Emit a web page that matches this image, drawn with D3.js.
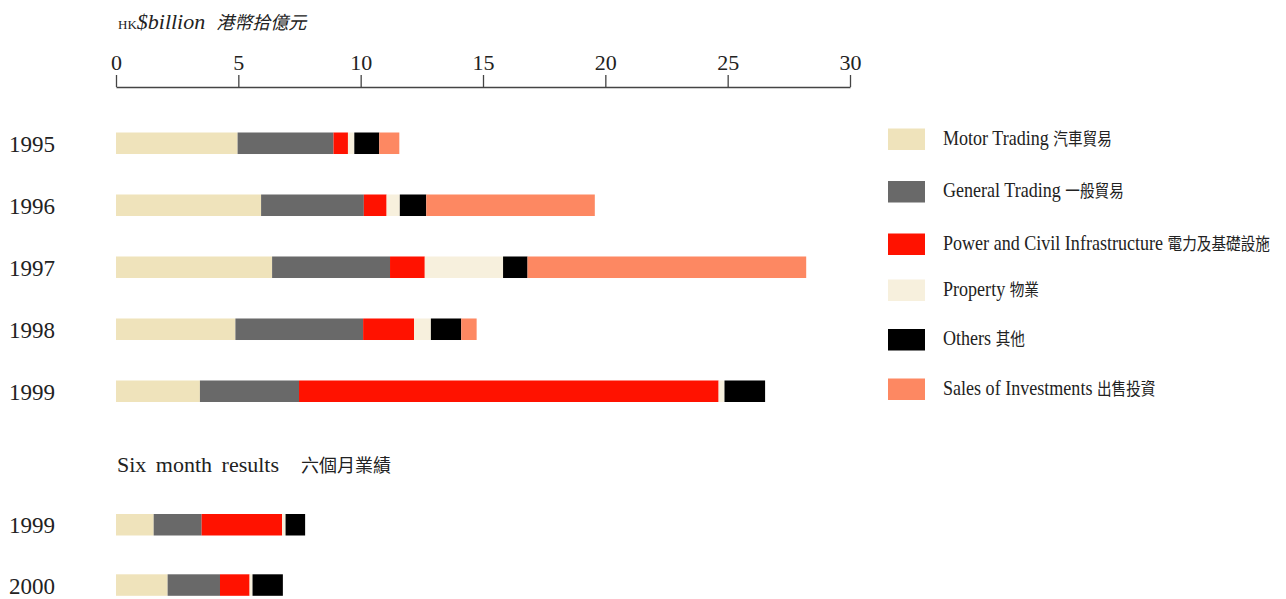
<!DOCTYPE html>
<html>
<head>
<meta charset="utf-8">
<script src="https://cdn.jsdelivr.net/npm/d3@7/dist/d3.min.js"></script>
<style>
  html, body { margin: 0; padding: 0; background: #fff; }
  svg { display: block; }
  text { fill: #222; }
  .serif { font-family: "Liberation Serif", "DejaVu Serif", serif; }
  .cjk { font-family: "Noto Sans CJK TC", "Noto Sans CJK SC", sans-serif; }
</style>
</head>
<body>
<svg id="chart" width="1286" height="599"></svg>
<script>
// Turnover by division, HK$ billion
const years = ["1995", "1996", "1997", "1998", "1999"];
const halfYears = ["1999", "2000"];

const motorTrading   = [4.97, 5.93, 6.38, 4.88, 3.43];
const generalTrading = [3.92, 4.20, 4.82, 5.22, 4.05];
const powerCivil     = [0.59, 0.93, 1.42, 2.08, 17.15];
const property       = [0.26, 0.54, 3.20, 0.69, 0.24];
const others         = [1.02, 1.08, 1.00, 1.24, 1.66];
const salesInvest    = [0.82, 6.89, 11.39, 0.63, 0.00];

// Six month results
const halfMotor    = [1.54, 2.11];
const halfGeneral  = [1.96, 2.14];
const halfPower    = [3.29, 1.21];
const halfProperty = [0.14, 0.12];
const halfOthers   = [0.80, 1.24];
const halfSales    = [0.00, 0.00];

const tickValues = [0, 5, 10, 15, 20, 25, 30];

const seriesKeys = ["motor", "general", "power", "property", "others", "sales"];
const seriesEn = ["Motor Trading", "General Trading", "Power and Civil Infrastructure", "Property", "Others", "Sales of Investments"];
const seriesZh = ["汽車貿易", "一般貿易", "電力及基礎設施", "物業", "其他", "出售投資"];
const seriesColors = ["#efe3bb", "#696969", "#ff1200", "#f7f0dd", "#000000", "#fd8862"];

const svg = d3.select("#chart");

const x = d3.scaleLinear().domain([0, 30]).range([116, 850]);
const color = d3.scaleOrdinal().domain(seriesKeys).range(seriesColors);

function rows(labels, cols) {
  return labels.map((label, i) => {
    const r = { label };
    seriesKeys.forEach((k, j) => { r[k] = cols[j][i]; });
    return r;
  });
}

const mainRows = rows(years, [motorTrading, generalTrading, powerCivil, property, others, salesInvest]);
const halfRows = rows(halfYears, [halfMotor, halfGeneral, halfPower, halfProperty, halfOthers, halfSales]);

const stack = d3.stack().keys(seriesKeys);

const yMain = d3.scaleBand().domain(years).range([132.5, 402]).paddingInner(0.653).paddingOuter(0);
const yHalf = d3.scaleBand().domain(halfYears).range([514, 595.8]).paddingInner(0.6435).paddingOuter(0);

function drawBlock(data, y, cls) {
  const g = svg.append("g").attr("class", cls);
  g.selectAll("g.layer")
    .data(stack(data))
    .join("g")
    .attr("class", "layer")
    .attr("fill", d => color(d.key))
    .selectAll("rect")
    .data(d => d)
    .join("rect")
    .attr("x", d => x(d[0]))
    .attr("y", d => y(d.data.label))
    .attr("width", d => Math.max(0, x(d[1]) - x(d[0])))
    .attr("height", y.bandwidth());

  g.selectAll("text.rowlabel")
    .data(data)
    .join("text")
    .attr("class", "rowlabel serif")
    .attr("x", 55)
    .attr("y", d => y(d.label) + y.bandwidth() / 2 + 8.5)
    .attr("text-anchor", "end")
    .attr("font-size", 23)
    .text(d => d.label);
}

drawBlock(mainRows, yMain, "main");
drawBlock(halfRows, yHalf, "half");

// Top axis
const axis = d3.axisTop(x).tickValues(tickValues).tickSize(12).tickSizeOuter(0).tickPadding(5);
const ax = svg.append("g").attr("transform", "translate(0,87)").call(axis);
ax.select(".domain").attr("stroke", "#444").attr("stroke-width", 1.3);
ax.selectAll(".tick line").attr("stroke", "#444").attr("stroke-width", 1.3);
ax.selectAll(".tick text")
  .attr("class", "serif")
  .attr("font-size", 22)
  .attr("fill", "#222")
  .style("font-family", "'Liberation Serif', serif");

// Unit title
const title = svg.append("text").attr("x", 118).attr("y", 29);
title.append("tspan").attr("class", "serif").attr("font-size", 13).text("HK");
title.append("tspan").attr("class", "serif").attr("font-size", 22).attr("font-style", "italic").text("$billion");
title.append("tspan").attr("class", "cjk").attr("font-size", 18).attr("font-style", "italic").attr("dx", 11).text("港幣拾億元");

// Six month heading
const sub = svg.append("text").attr("x", 117).attr("y", 472);
sub.append("tspan").attr("class", "serif").attr("font-size", 22).attr("word-spacing", 4).text("Six month results");
sub.append("tspan").attr("class", "cjk").attr("font-size", 18).attr("dx", 22).text("六個月業績");

// Legend
const legendTops = [128.5, 181, 233.5, 279.5, 329, 378.5];
const legend = svg.append("g").attr("class", "legend");
const items = legend.selectAll("g")
  .data(seriesKeys)
  .join("g")
  .attr("transform", (d, i) => `translate(888,${legendTops[i]})`);
items.append("rect")
  .attr("width", 37)
  .attr("height", 21.5)
  .attr("fill", d => color(d));
const lt = items.append("text")
  .attr("transform", "translate(55,16) scale(0.86,1)");
lt.append("tspan").attr("class", "serif").attr("font-size", 21).text((d, i) => seriesEn[i] + " ");
lt.append("tspan").attr("class", "cjk").attr("font-size", 17).text((d, i) => seriesZh[i]);
</script>
</body>
</html>
